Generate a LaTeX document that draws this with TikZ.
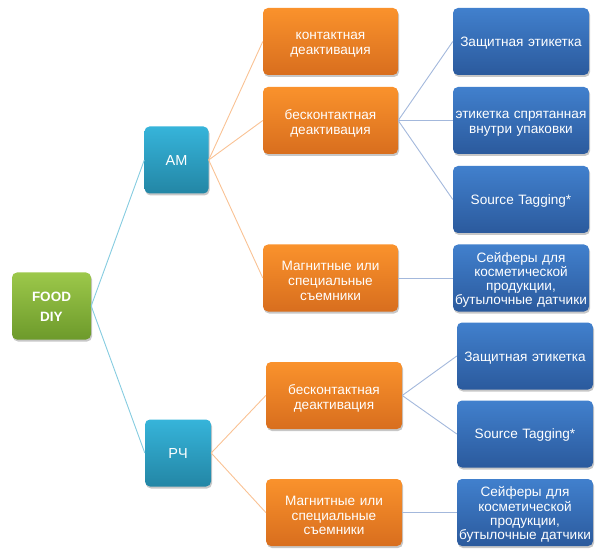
\documentclass[tikz,border=0pt]{standalone}
\usepackage{fontspec}
\setmainfont{Liberation Sans}
\usetikzlibrary{shadows,positioning}
\definecolor{gtop}{HTML}{9CC84A}
\definecolor{gbot}{HTML}{6D9A2B}
\definecolor{ctop}{HTML}{36B4DA}
\definecolor{cbot}{HTML}{2386A5}
\definecolor{otop}{HTML}{FA922C}
\definecolor{obot}{HTML}{D86E1E}
\definecolor{btop}{HTML}{4180CD}
\definecolor{bbot}{HTML}{2B5A9D}
\definecolor{lcyan}{HTML}{86CCE0}
\definecolor{lorange}{HTML}{F9C294}
\definecolor{lblue}{HTML}{A3B8DC}
\tikzset{
  box/.style={rounded corners=5pt, inner sep=0pt, minimum height=67pt,
    drop shadow={shadow xshift=1pt, shadow yshift=-2pt, fill=black, opacity=0.22}},
  greenbox/.style={box, top color=gtop, bottom color=gbot, minimum width=79pt},
  cyanbox/.style={box, top color=ctop, bottom color=cbot, minimum width=64pt},
  orangebox/.style={box, top color=otop, bottom color=obot, minimum width=135pt},
  bluebox/.style={box, top color=btop, bottom color=bbot, minimum width=136pt},
  txt/.style={text=white, align=center, text width=135pt, inner sep=0pt, font=\fontsize{13.6}{14.8}\selectfont},
  txt4/.style={txt, font=\fontsize{13.6}{14.2}\selectfont},
  bigtxt/.style={txt, text width=60pt, font=\fontsize{14.5}{17}\selectfont},
  boldtxt/.style={txt, text width=75pt, font=\fontsize{13.5}{19.5}\selectfont\bfseries},
  lc/.style={draw=lcyan, line width=0.9pt},
  lo/.style={draw=lorange, line width=0.9pt},
  lb/.style={draw=lblue, line width=0.9pt}
}
\begin{document}
\begin{tikzpicture}[x=1pt,y=-1pt]
\useasboundingbox (0,0) rectangle (600,556);
% boxes
\node[greenbox] (food) at (51.5,306) {};
\node[cyanbox] (am) at (176.5,160) {};
\node[cyanbox, minimum width=66pt] (rf) at (178,453) {};
\node[orangebox] (o1) at (330.5,41.5) {};
\node[orangebox] (o2) at (330.5,120.5) {};
\node[orangebox] (o3) at (330.5,278) {};
\node[orangebox, minimum width=136pt] (o4) at (334,395.5) {};
\node[orangebox, minimum width=136pt] (o5) at (334,512.5) {};
\node[bluebox] (b1) at (521,41.5) {};
\node[bluebox] (b2) at (521,120.5) {};
\node[bluebox] (b3) at (521,199.5) {};
\node[bluebox] (b4) at (521,278) {};
\node[bluebox] (b5) at (525,356) {};
\node[bluebox] (b6) at (525,434) {};
\node[bluebox] (b7) at (525,512.5) {};
% texts
\node[boldtxt] (foodt) at ([yshift=-1pt]food.center) {FOOD\\DIY};
\node[bigtxt] (amt) at ([yshift=-1pt]am.center) {AM};
\node[bigtxt] (rft) at ([yshift=-1pt]rf.center) {РЧ};
\node[txt] (o1t) at ([yshift=-3pt]o1.center) {контактная\\деактивация};
\node[txt] (o2t) at ([yshift=-3pt]o2.center) {бесконтактная\\деактивация};
\node[txt] (o3t) at ([yshift=-3pt]o3.center) {Магнитные или\\специальные\\съемники};
\node[txt] (o4t) at ([yshift=-3pt]o4.center) {бесконтактная\\деактивация};
\node[txt] (o5t) at ([yshift=-3pt]o5.center) {Магнитные или\\специальные\\съемники};
\node[txt] (b1t) at ([yshift=-2pt]b1.center) {Защитная этикетка};
\node[txt] (b2t) at ([yshift=-3pt]b2.center) {этикетка спрятанная\\внутри упаковки};
\node[txt] (b3t) at ([yshift=-1pt]b3.center) {Source Tagging*};
\node[txt4] (b4t) at ([yshift=-2pt]b4.center) {Сейферы для\\косметической\\продукции,\\бутылочные датчики};
\node[txt] (b5t) at ([yshift=-2pt]b5.center) {Защитная этикетка};
\node[txt] (b6t) at ([yshift=-1pt]b6.center) {Source Tagging*};
\node[txt4] (b7t) at ([yshift=-2pt]b7.center) {Сейферы для\\косметической\\продукции,\\бутылочные датчики};
% connectors
\draw[lc] (food.east) -- (am.west);
\draw[lc] (food.east) -- (rf.west);
\draw[lo] (am.east) -- (o1.west);
\draw[lo] (am.east) -- (o2.west);
\draw[lo] (am.east) -- (o3.west);
\draw[lo] (rf.east) -- (o4.west);
\draw[lo] (rf.east) -- (o5.west);
\draw[lb] (o2.east) -- (b1.west);
\draw[lb] (o2.east) -- (b2.west);
\draw[lb] (o2.east) -- (b3.west);
\draw[lb] (o3.east) -- (b4.west);
\draw[lb] (o4.east) -- (b5.west);
\draw[lb] (o4.east) -- (b6.west);
\draw[lb] (o5.east) -- (b7.west);
\end{tikzpicture}
\end{document}
